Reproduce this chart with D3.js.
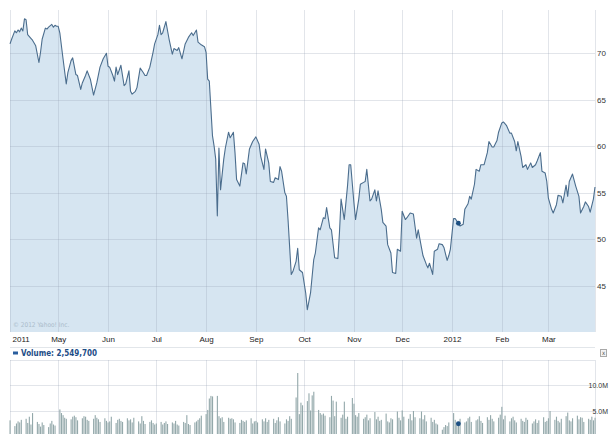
<!DOCTYPE html>
<html><head><meta charset="utf-8">
<script src="https://cdn.jsdelivr.net/npm/d3@7"></script>
<style>
html,body{margin:0;padding:0;background:#fff;}
svg{display:block;font-family:"Liberation Sans Narrow","DejaVu Sans Condensed","Liberation Sans",sans-serif;}
</style></head><body>
<svg id="chart" width="611" height="434"></svg>
<script>
// ---------- DATA ----------
const priceDates = [
"2011-04-01","2011-04-02","2011-04-04","2011-04-05","2011-04-06","2011-04-07","2011-04-08","2011-04-09","2011-04-10","2011-04-11",
"2011-04-12","2011-04-14","2011-04-15","2011-04-17","2011-04-19","2011-04-20","2011-04-21","2011-04-23","2011-04-24","2011-04-25",
"2011-04-27","2011-04-28","2011-04-29","2011-04-30","2011-05-01","2011-05-02","2011-05-04","2011-05-06","2011-05-07","2011-05-09",
"2011-05-10","2011-05-12","2011-05-13","2011-05-15","2011-05-16","2011-05-18","2011-05-19","2011-05-21","2011-05-23","2011-05-25",
"2011-05-27","2011-05-29","2011-05-31","2011-06-01","2011-06-02","2011-06-04","2011-06-05","2011-06-06","2011-06-07","2011-06-09",
"2011-06-10","2011-06-11","2011-06-12","2011-06-14","2011-06-15","2011-06-16","2011-06-18","2011-06-19","2011-06-21","2011-06-23",
"2011-06-24","2011-06-25","2011-06-27","2011-06-29","2011-06-30","2011-07-02","2011-07-03","2011-07-04","2011-07-05","2011-07-07",
"2011-07-09","2011-07-11","2011-07-12","2011-07-14","2011-07-15","2011-07-17","2011-07-19","2011-07-21","2011-07-23","2011-07-24",
"2011-07-26","2011-07-27","2011-07-29","2011-07-31","2011-08-01","2011-08-02","2011-08-03","2011-08-05","2011-08-06","2011-08-07",
"2011-08-08","2011-08-09","2011-08-10","2011-08-12","2011-08-13","2011-08-15","2011-08-16","2011-08-18","2011-08-19","2011-08-20",
"2011-08-22","2011-08-24","2011-08-25","2011-08-26","2011-08-28","2011-08-30","2011-09-01","2011-09-03","2011-09-04","2011-09-06",
"2011-09-07","2011-09-09","2011-09-10","2011-09-12","2011-09-13","2011-09-15","2011-09-16","2011-09-17","2011-09-19","2011-09-20",
"2011-09-21","2011-09-23","2011-09-24","2011-09-26","2011-09-27","2011-09-28","2011-09-30","2011-10-02","2011-10-03","2011-10-05",
"2011-10-07","2011-10-08","2011-10-10","2011-10-11","2011-10-13","2011-10-14","2011-10-15","2011-10-17","2011-10-18","2011-10-20",
"2011-10-22","2011-10-23","2011-10-24","2011-10-26","2011-10-28","2011-10-29","2011-10-30","2011-11-01","2011-11-02","2011-11-04",
"2011-11-05","2011-11-07","2011-11-08","2011-11-09","2011-11-11","2011-11-12","2011-11-14","2011-11-15","2011-11-16","2011-11-18",
"2011-11-19","2011-11-21","2011-11-22","2011-11-24","2011-11-25","2011-11-27","2011-11-28","2011-11-30","2011-12-01","2011-12-03",
"2011-12-04","2011-12-06","2011-12-08","2011-12-10","2011-12-11","2011-12-13","2011-12-14","2011-12-16","2011-12-17","2011-12-18",
"2011-12-20","2011-12-21","2011-12-23","2011-12-24","2011-12-26","2011-12-27","2011-12-29","2011-12-30","2011-12-31","2012-01-02",
"2012-01-03","2012-01-05","2012-01-06","2012-01-08","2012-01-09","2012-01-11","2012-01-12","2012-01-13","2012-01-15","2012-01-16",
"2012-01-18","2012-01-19","2012-01-21","2012-01-23","2012-01-24","2012-01-26","2012-01-27","2012-01-29","2012-01-30","2012-02-01",
"2012-02-02","2012-02-04","2012-02-06","2012-02-07","2012-02-09","2012-02-10","2012-02-11","2012-02-13","2012-02-14","2012-02-16",
"2012-02-17","2012-02-19","2012-02-20","2012-02-22","2012-02-23","2012-02-25","2012-02-26","2012-02-28","2012-02-29","2012-03-01",
"2012-03-03","2012-03-04","2012-03-06","2012-03-07","2012-03-09","2012-03-10","2012-03-12","2012-03-13","2012-03-14","2012-03-16",
"2012-03-18","2012-03-20","2012-03-21","2012-03-23","2012-03-24","2012-03-26","2012-03-27","2012-03-29","2012-03-30"];
const priceValues = [
71.0,71.5,72.4,72.2,72.5,72.3,72.7,72.4,73.7,73.6,
72.0,71.6,71.4,70.8,69.0,70.1,71.5,72.7,72.6,72.8,
73.1,72.8,73.0,72.9,72.9,72.2,69.4,66.7,67.9,69.2,
69.5,67.7,67.6,66.1,66.8,67.6,68.1,67.2,65.5,66.8,
68.5,69.4,70.0,68.6,68.5,67.6,67.0,68.5,67.7,68.7,
67.6,66.5,66.7,68.1,65.9,65.6,65.9,66.3,68.4,67.9,
67.6,67.6,68.5,70.1,71.0,72.0,73.0,72.0,72.2,73.4,
71.5,69.9,70.5,70.3,70.6,69.4,71.0,71.7,72.2,71.9,
72.5,71.2,70.9,70.7,70.1,67.2,67.0,61.1,60.0,58.6,
52.5,59.8,55.3,58.6,59.8,61.5,60.9,61.5,59.3,56.4,
55.7,58.2,58.1,57.0,59.7,60.5,61.0,60.2,58.9,57.5,
59.7,58.2,56.2,56.1,56.6,56.4,57.8,57.3,55.0,54.6,
52.1,46.2,46.5,47.6,49.0,46.7,46.4,44.2,42.4,44.2,
47.8,48.5,51.2,51.0,52.3,52.2,53.4,51.2,51.0,48.0,
47.9,50.7,54.3,52.1,55.7,58.0,58.0,53.9,52.1,54.3,
55.9,56.1,56.2,57.5,54.1,54.3,55.3,54.1,55.2,53.2,
51.8,51.4,49.4,48.5,46.4,46.3,48.9,48.7,53.0,52.1,
52.3,52.8,52.7,50.1,51.0,49.1,48.2,47.3,46.9,47.4,
46.2,48.7,48.9,49.5,49.4,49.1,47.7,48.2,48.9,52.2,
52.2,51.7,51.4,51.6,53.2,53.8,54.6,54.3,55.9,57.5,
57.3,58.0,58.0,59.3,60.5,59.9,59.9,60.6,61.5,62.5,
62.6,62.2,61.4,61.4,60.5,59.5,60.5,58.9,57.7,58.0,
57.5,58.2,57.7,58.0,58.4,59.3,57.3,57.1,56.2,54.4,
53.2,52.8,53.7,54.7,54.6,53.9,55.8,54.6,56.2,57.0,
55.7,54.6,52.8,53.5,54.0,53.5,52.9,54.3,55.6];

const monthTickDates = ["2011-04-01","2011-05-01","2011-06-01","2011-07-01","2011-08-01","2011-09-01",
                        "2011-10-01","2011-11-01","2011-12-01","2012-01-01","2012-02-01","2012-03-01"];
const monthTickLabels = ["2011","May","Jun","Jul","Aug","Sep","Oct","Nov","Dec","2012","Feb","Mar"];
const priceTicks = [45,50,55,60,65,70];
const priceTickLabels = ["45","50","55","60","65","70"];

// daily volume, millions of shares, one value per weekday of each month
const volumeMonths = ["2011-04","2011-05","2011-06","2011-07","2011-08","2011-09","2011-10","2011-11","2011-12","2012-01","2012-02","2012-03"];
const volApr = [3.2,2.1,2.6,3.0,2.8,3.3,3.5,2.7,3.9,2.4,4.6,2.9,2.5,2.0,2.8,2.3,1.9,2.6,3.1,2.4,2.2];
const volMay = [5.3,4.6,4.2,3.7,3.5,3.4,3.9,4.1,3.8,3.2,3.6,4.0,3.9,3.3,3.1,3.5,4.2,3.7,3.4,2.9,3.6,3.1];
const volJun = [2.8,3.0,3.9,2.7,3.3,3.5,3.1,2.9,3.6,3.2,3.4,2.8,3.7,3.0,2.6,4.0,3.1,2.5,2.9,3.2,2.7,2.4];
const volJul = [2.6,2.9,2.4,2.7,3.0,2.5,2.8,2.6,3.1,2.4,2.2,2.9,2.7,4.2,2.5,2.3,2.8,3.0,3.3,3.6,4.1];
const volAug = [4.4,5.2,7.4,7.9,7.8,7.9,4.0,3.6,3.8,2.9,3.7,3.5,3.6,3.4,2.8,2.7,3.3,3.1,2.9,3.2,3.6,2.6,3.0];
const volSep = [3.1,2.8,3.4,3.0,3.6,2.9,3.3,3.5,2.7,3.2,3.8,3.0,2.6,3.4,3.1,4.0,3.5,7.6,12.3,4.4,6.6,6.1];
const volOct = [6.9,8.4,5.1,8.0,8.7,5.2,4.6,4.3,4.5,4.1,3.8,7.9,7.0,4.0,6.8,3.7,4.3,6.8,3.5,3.9,7.5];
const volNov = [6.4,4.2,3.9,4.6,3.5,3.8,4.3,3.2,3.6,4.8,3.4,3.9,3.1,3.3,4.5,3.0,2.8,3.6,3.4,4.9,3.7,3.2];
const volDec = [5.1,3.9,3.5,4.4,3.2,5.0,3.8,3.6,4.9,3.4,4.2,3.0,3.7,2.9,3.3,2.6,2.4,1.4,1.9,2.3,2.1,2.8];
const volJan = [4.6,3.3,2.7,2.5497,3.5,2.8,3.0,3.6,3.9,2.9,3.2,3.4,4.0,3.1,2.7,3.8,3.3,4.2,3.5,3.0,3.7,4.3];
const volFeb = [5.8,3.4,4.1,3.0,3.6,3.9,3.2,2.8,3.5,3.1,2.9,3.7,3.3,2.6,3.0,3.4,2.7,3.2,3.8,2.9,3.1];
const volMar = [3.6,5.0,3.3,3.9,3.1,2.8,3.5,4.0,4.7,3.2,3.0,3.6,4.1,3.4,3.8,3.7,2.9,3.5,3.3,3.9,3.2,3.7];
const volumeTicks = [5, 10];
const volumeTickLabels = ["5.0M", "10.0M"];

const markerDate = "2012-01-05";
const volumeLegend = "Volume: 2,549,700";
const copyrightText = "\u00a9 2012 Yahoo! Inc.";

// ---------- DRAW ----------
const parse = d3.timeParse("%Y-%m-%d");
const svg = d3.select("#chart");

const plotL = 10, plotR = 595, plotT = 10, plotB = 332;
const volT = 360, volB = 437;

const x = d3.scaleTime().domain([parse("2011-04-01"), parse("2012-03-30")]).range([plotL, plotR]);
const y = d3.scaleLinear().domain([40, 74.65]).range([plotB, plotT]);
const yv = d3.scaleLinear().domain([0, 14.8]).range([volB, volT]);

const price = priceDates.map((d, i) => ({date: parse(d), value: priceValues[i]}));
const monthTicks = monthTickDates.map(parse);

// area + line
svg.append("path").datum(price)
  .attr("fill", "#d6e5f1")
  .attr("d", d3.area().x(d => x(d.date)).y0(plotB).y1(d => y(d.value)));

const gridColor = "rgba(150,162,178,0.28)";
const grid = svg.append("g");
grid.selectAll("line.h").data(priceTicks).join("line")
  .attr("x1", plotL).attr("x2", plotR)
  .attr("y1", d => Math.round(y(d)) + 0.5).attr("y2", d => Math.round(y(d)) + 0.5)
  .attr("stroke", gridColor);
grid.selectAll("line.v").data(monthTicks).join("line")
  .attr("x1", d => Math.round(x(d)) + 0.5).attr("x2", d => Math.round(x(d)) + 0.5)
  .attr("y1", plotT).attr("y2", plotB)
  .attr("stroke", gridColor);
grid.append("line").attr("x1", plotR + 0.5).attr("x2", plotR + 0.5).attr("y1", plotT).attr("y2", plotB).attr("stroke", gridColor);

svg.append("path").datum(price)
  .attr("fill", "none").attr("stroke", "#4b6d8d").attr("stroke-width", 1.1)
  .attr("stroke-linejoin", "round")
  .attr("d", d3.line().x(d => x(d.date)).y(d => y(d.value)));

const mk = price.find(d => +d.date === +parse(markerDate));
svg.append("circle").attr("cx", x(mk.date)).attr("cy", y(mk.value)).attr("r", 2.4).attr("fill", "#1d4f82");

svg.append("text").attr("x", 13).attr("y", 327).attr("font-size", 6.5).attr("fill", "#abbccb").text(copyrightText);

// y labels
svg.append("g").attr("transform", `translate(${plotR},0)`)
  .call(d3.axisRight(y).tickValues(priceTicks).tickFormat((d, i) => priceTickLabels[i]).tickSize(0).tickPadding(2))
  .call(g => g.select(".domain").remove())
  .call(g => g.selectAll("text").attr("font-size", 8).attr("fill", "#333").attr("font-family", null));

// x labels
const xa = svg.append("g").attr("transform", `translate(0,${plotB})`)
  .call(d3.axisBottom(x).tickValues(monthTicks).tickFormat((d, i) => monthTickLabels[i]).tickSize(0).tickPadding(4))
  .call(g => g.select(".domain").remove())
  .call(g => g.selectAll("text").attr("font-size", 8).attr("fill", "#222").attr("font-family", null));
xa.selectAll(".tick").filter((d, i) => i === 0).select("text").attr("text-anchor", "start").attr("x", 2);

// separator
svg.append("line").attr("x1", plotL).attr("x2", plotR).attr("y1", 347.5).attr("y2", 347.5).attr("stroke", "#e2e6ea");

// volume legend
svg.append("rect").attr("x", 13).attr("y", 351.5).attr("width", 5).attr("height", 3).attr("fill", "#2a5e9e");
svg.append("text").attr("x", 21).attr("y", 356).attr("font-size", 8).attr("font-weight", "bold").attr("fill", "#1d4d86").text(volumeLegend);
svg.append("rect").attr("x", 600.5).attr("y", 349.5).attr("width", 6).attr("height", 7).attr("fill", "#f3f3f3").attr("stroke", "#a8a8a8");
svg.append("text").attr("x", 603.5).attr("y", 355).attr("text-anchor", "middle").attr("font-size", 6).attr("fill", "#555").text("x");

// volume grid
const vg = svg.append("g");
vg.append("line").attr("x1", plotL).attr("x2", plotR).attr("y1", volT + 0.5).attr("y2", volT + 0.5).attr("stroke", gridColor);
vg.selectAll("line.h").data(volumeTicks).join("line")
  .attr("x1", plotL).attr("x2", plotR)
  .attr("y1", d => Math.round(yv(d)) + 0.5).attr("y2", d => Math.round(yv(d)) + 0.5)
  .attr("stroke", gridColor);
vg.selectAll("line.v").data(monthTicks).join("line")
  .attr("x1", d => Math.round(x(d)) + 0.5).attr("x2", d => Math.round(x(d)) + 0.5)
  .attr("y1", volT).attr("y2", 434)
  .attr("stroke", gridColor);
vg.append("line").attr("x1", plotR + 0.5).attr("x2", plotR + 0.5).attr("y1", volT).attr("y2", 434).attr("stroke", gridColor);

// volume bars
const volByMonth = [volApr, volMay, volJun, volJul, volAug, volSep, volOct, volNov, volDec, volJan, volFeb, volMar];
const volume = [];
volumeMonths.forEach((m, mi) => {
  const start = parse(m + "-01");
  const days = d3.timeDay.range(start, d3.timeMonth.offset(start, 1)).filter(d => d.getDay() !== 0 && d.getDay() !== 6);
  volByMonth[mi].forEach((v, i) => { if (days[i] && days[i] <= x.domain()[1]) volume.push({date: days[i], value: v}); });
});
svg.append("g").selectAll("rect").data(volume).join("rect")
  .attr("x", d => x(d.date) - 0.5).attr("width", 1.1)
  .attr("y", d => yv(d.value)).attr("height", d => volB - yv(d.value))
  .attr("fill", "#93a8aa");

const vm = volume.find(d => +d.date === +parse(markerDate));
if (vm) svg.append("circle").attr("cx", x(vm.date)).attr("cy", yv(vm.value)).attr("r", 2.4).attr("fill", "#1d4f82");

// volume labels, right-aligned so they stay inside the 611px frame
svg.append("g").attr("transform", `translate(${plotR},0)`)
  .call(d3.axisRight(yv).tickValues(volumeTicks).tickFormat((d, i) => volumeTickLabels[i]).tickSize(0).tickPadding(1))
  .call(g => g.select(".domain").remove())
  .call(g => g.selectAll("text").attr("font-size", 7).attr("fill", "#333").attr("font-family", null)
                .attr("text-anchor", "end").attr("x", 611 - plotR - 3));
</script>
</body></html>
